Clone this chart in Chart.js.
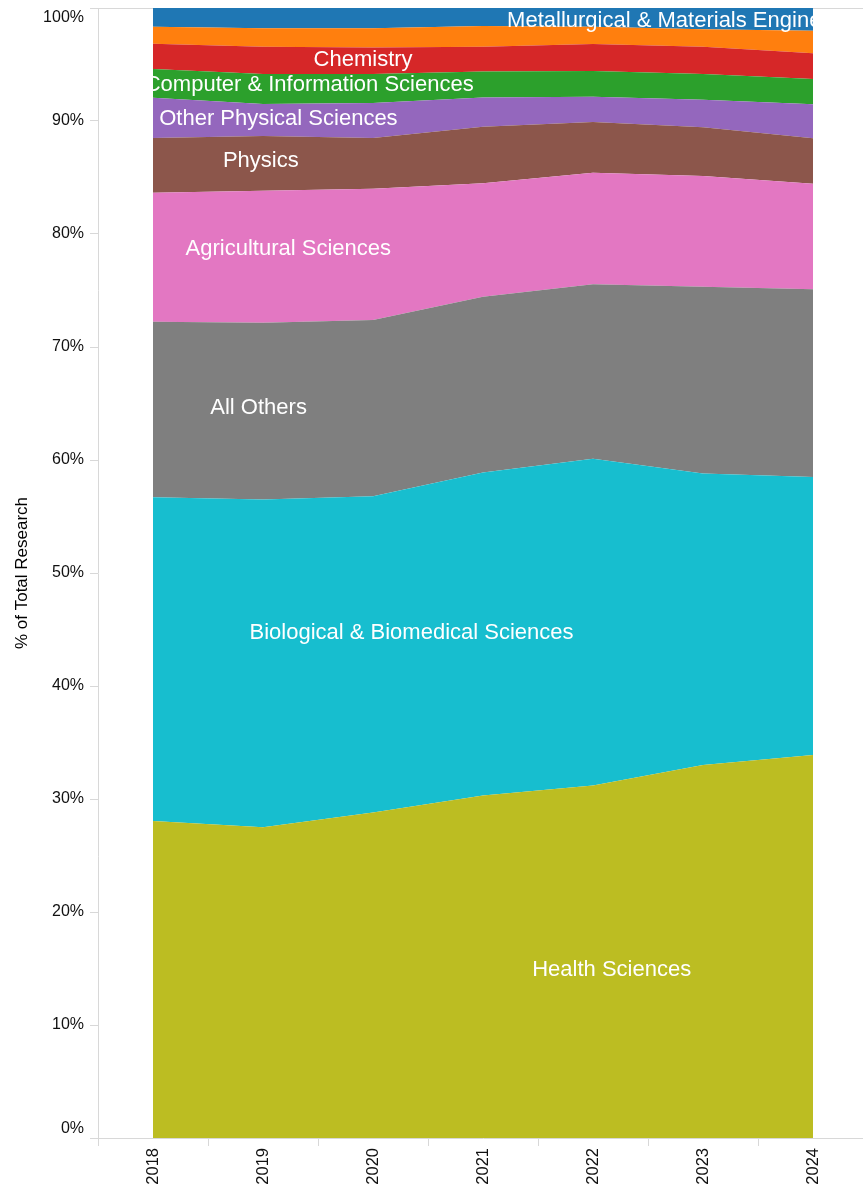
<!DOCTYPE html>
<html>
<head>
<meta charset="utf-8">
<script src="https://cdn.jsdelivr.net/npm/chart.js@4"></script>
<style>
  html, body { margin: 0; padding: 0; background: #fff; overflow: hidden; }
  canvas { display: block; }
</style>
</head>
<body>
<canvas id="chart" width="868" height="1189"></canvas>
<script>
const years = ['2018', '2019', '2020', '2021', '2022', '2023', '2024'];

// share of total research, % (bottom of the stack first)
const health = [28.05, 27.5, 28.8, 30.3, 31.2, 33.0, 33.9];
const biological = [28.65, 29.0, 28.0, 28.6, 28.9, 25.8, 24.6];
const allOthers = [15.54, 15.65, 15.59, 15.55, 15.45, 16.54, 16.61];
const agricultural = [11.41, 11.68, 11.61, 10.04, 9.87, 9.79, 9.34];
const physics = [4.85, 4.84, 4.5, 5.01, 4.49, 4.31, 4.02];
const otherPhysical = [3.56, 2.83, 3.09, 2.57, 2.24, 2.44, 3.01];
const computer = [2.54, 2.66, 2.57, 2.3, 2.27, 2.28, 2.24];
const chemistry = [2.24, 2.42, 2.34, 2.21, 2.39, 2.42, 2.28];
const otherEngineering = [1.51, 1.62, 1.7, 1.83, 1.54, 1.54, 1.99];
const metallurgical = [1.65, 1.8, 1.8, 1.59, 1.65, 1.88, 2.01];

const seriesNames = [
    'Health Sciences', 'Biological & Biomedical Sciences', 'All Others',
    'Agricultural Sciences', 'Physics', 'Other Physical Sciences',
    'Computer & Information Sciences', 'Chemistry', 'Other Engineering',
    'Metallurgical & Materials Engineering'
];
const seriesValues = [
    health, biological, allOthers, agricultural, physics, otherPhysical,
    computer, chemistry, otherEngineering, metallurgical
];
const seriesColors = [
    '#bcbd22', '#17becf', '#7f7f7f', '#e377c2', '#8c564b', '#9467bd',
    '#2ca02c', '#d62728', '#ff7f0e', '#1f77b4'
];

// in-area labels: text, position along the year axis (index), % height
const labelText = [
    'Metallurgical & Materials Engineering', 'Chemistry', 'Computer & Information Sciences',
    'Other Physical Sciences', 'Physics', 'Agricultural Sciences', 'All Others',
    'Biological & Biomedical Sciences', 'Health Sciences'
];
const labelX = [4.87, 1.91, 1.42, 1.14, 0.98, 1.23, 0.96, 2.35, 4.17];
const labelY = [98.85, 95.4, 93.2, 90.2, 86.5, 78.7, 64.6, 44.7, 14.9];

Chart.defaults.font.family = '"Liberation Sans", Arial, sans-serif';
Chart.defaults.color = '#111';

const areaLabels = {
    id: 'areaLabels',
    afterDatasetsDraw(chart) {
        const { ctx, scales: { x, y } } = chart;
        ctx.save();
        ctx.font = '22px "Liberation Sans", Arial, sans-serif';
        ctx.fillStyle = '#fff';
        ctx.textAlign = 'center';
        ctx.textBaseline = 'middle';
        labelText.forEach((t, i) => {
            ctx.fillText(t, x.getPixelForValue(labelX[i]), y.getPixelForValue(labelY[i]));
        });
        ctx.restore();
    }
};

const data = {
    labels: years,
    datasets: seriesNames.map((name, i) => ({
        label: name,
        data: seriesValues[i],
        backgroundColor: seriesColors[i],
        borderWidth: 0,
        pointRadius: 0,
        tension: 0,
        fill: i === 0 ? 'origin' : '-1'
    }))
};

const config = {
    type: 'line',
    data: data,
    options: {
        responsive: false,
        animation: false,
        layout: { padding: { top: 8, right: 0, left: 0, bottom: 0 } },
        plugins: {
            legend: { display: false },
            tooltip: { enabled: false }
        },
        scales: {
            x: {
                offset: true,
                grid: {
                    offset: true,
                    drawOnChartArea: false,
                    tickLength: 8,
                    color: '#d8d8d8'
                },
                border: { color: '#d8d8d8' },
                ticks: {
                    minRotation: 90,
                    maxRotation: 90,
                    padding: 2,
                    font: { size: 16.5 }
                },
                afterFit: (scale) => {
                    scale.height = 51;
                    scale.paddingLeft = 0;
                    scale.paddingRight = 0;
                }
            },
            y: {
                stacked: true,
                min: 0,
                max: 100,
                z: 1,
                grid: {
                    color: (c) => c.tick && c.tick.value === 100 ? '#d8d8d8' : 'rgba(0,0,0,0)',
                    tickColor: '#d8d8d8',
                    tickLength: 8
                },
                border: { color: '#d8d8d8' },
                ticks: {
                    stepSize: 10,
                    padding: 6,
                    font: { size: 16 },
                    callback: (v) => v === 0 ? ['0%', ''] : v === 100 ? ['', '100%'] : v + '%'
                },
                title: {
                    display: true,
                    text: '% of Total Research',
                    color: '#000',
                    font: { size: 17 },
                    padding: { top: 12, bottom: 0 }
                },
                afterFit: (scale) => {
                    scale.width = 98;
                    scale.paddingTop = 0;
                    scale.paddingBottom = 0;
                }
            }
        }
    },
    plugins: [areaLabels]
};

const areaChart = new Chart(document.getElementById('chart'), config);
</script>
</body>
</html>
